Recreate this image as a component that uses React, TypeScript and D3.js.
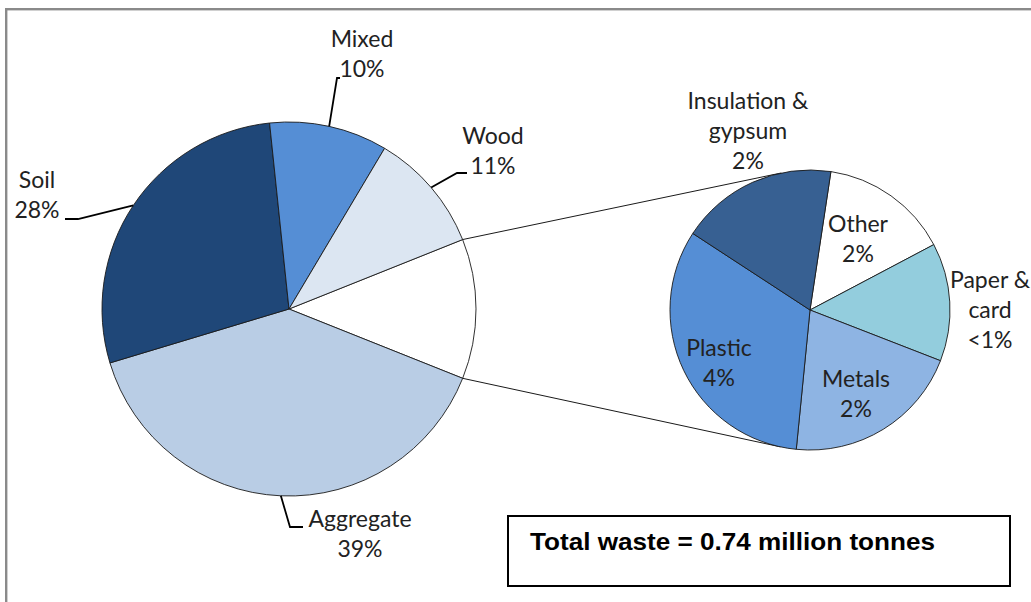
import React from 'react';
import * as d3 from 'd3';

// ---------- data ----------
const mainCategories = ['Other', 'Aggregate', 'Soil', 'Mixed', 'Wood'];
const mainValues = [12.1, 39.3, 28.0, 10.2, 10.4];
const mainPctLabels = ['', '39%', '28%', '10%', '11%'];

const subCategories = ['Other', 'Paper & card', 'Metals', 'Plastic', 'Insulation & gypsum'];
const subValues = [1.8, 1.65, 2.5, 3.95, 2.2];
const subPctLabels = ['2%', '<1%', '2%', '4%', '2%'];

const totalText = 'Total waste = 0.74 million tonnes';

// ---------- styles / layout ----------
const mainColors: Record<string, string> = {
  Other: '#ffffff',
  Aggregate: '#b9cde5',
  Soil: '#1f4778',
  Mixed: '#558ed5',
  Wood: '#dce6f2',
};
const subColors: Record<string, string> = {
  Other: '#ffffff',
  'Paper & card': '#93cddd',
  Metals: '#8eb4e3',
  Plastic: '#558ed5',
  'Insulation & gypsum': '#376092',
};

const W = 1031;
const H = 602;
const main = { cx: 289, cy: 309, r: 187, start: 68.2 };
const sub = { cx: 810, cy: 310, r: 140, start: 8.6 };
const LH = 30;
const FONT = 'Lato, "Open Sans", sans-serif';
const FS = 23;

// label layout: first line center-x, first baseline y, lines, leader path points after the arc point
const mainLabelLayout: Record<string, { x: number; y: number; lines: string[]; leader: [number, number][] }> = {
  Mixed: { x: 362, y: 47, lines: ['Mixed'], leader: [[337, 78], [340, 78]] },
  Wood: { x: 493, y: 144, lines: ['Wood'], leader: [[457, 173], [467, 173]] },
  Soil: { x: 37, y: 188, lines: ['Soil'], leader: [[78, 219], [65, 219]] },
  Aggregate: { x: 360, y: 527, lines: ['Aggregate'], leader: [[290, 527], [303, 527]] },
};
const subLabelLayout: Record<string, { x: number; y: number; lines: string[] }> = {
  Other: { x: 858, y: 232, lines: ['Other'] },
  'Paper & card': { x: 990, y: 288, lines: ['Paper &', 'card'] },
  Metals: { x: 856, y: 387, lines: ['Metals'] },
  Plastic: { x: 719, y: 356, lines: ['Plastic'] },
  'Insulation & gypsum': { x: 748, y: 109, lines: ['Insulation &', 'gypsum'] },
};

const deg = Math.PI / 180;

function tangentPoint(px: number, py: number, cx: number, cy: number, r: number, upper: boolean) {
  const vx = cx - px;
  const vy = cy - py;
  const d = Math.hypot(vx, vy);
  const theta = Math.atan2(vy, vx);
  const alpha = Math.asin(r / d);
  const dir = upper ? theta - alpha - Math.PI / 2 : theta + alpha + Math.PI / 2;
  return [cx + r * Math.cos(dir), cy + r * Math.sin(dir)];
}

export default function App() {
  const mainPie = d3
    .pie<number>()
    .sort(null)
    .startAngle(main.start * deg)
    .endAngle(main.start * deg + 2 * Math.PI);
  const subPie = d3
    .pie<number>()
    .sort(null)
    .startAngle(sub.start * deg)
    .endAngle(sub.start * deg + 2 * Math.PI);
  const mainArcs = mainPie(mainValues);
  const subArcs = subPie(subValues);
  const mainArc = d3.arc<d3.PieArcDatum<number>>().innerRadius(0).outerRadius(main.r);
  const subArc = d3.arc<d3.PieArcDatum<number>>().innerRadius(0).outerRadius(sub.r);

  const onCircle = (a: number, c: { cx: number; cy: number; r: number }) => [
    c.cx + c.r * Math.sin(a),
    c.cy - c.r * Math.cos(a),
  ];

  // connector lines from the "Other" slice of the main pie
  const otherArc = mainArcs[0];
  const pTop = onCircle(otherArc.startAngle, main);
  const pBot = onCircle(otherArc.endAngle, main);
  const tTop = tangentPoint(pTop[0], pTop[1], sub.cx, sub.cy, sub.r, true);
  const tBot = tangentPoint(pBot[0], pBot[1], sub.cx, sub.cy, sub.r, false);

  const line = d3.line();

  return (
    <svg width={W} height={H} style={{ position: 'absolute', left: 0, top: 0, background: '#fff' }}>
      <rect x={6.2} y={9.2} width={W + 50} height={H + 50} fill="#fff" stroke="#8a8a8a" strokeWidth={2.4} />

      {/* main pie */}
      <g transform={`translate(${main.cx},${main.cy})`}>
        {mainArcs.map((a, i) => (
          <path key={i} d={mainArc(a) || ''} fill={mainColors[mainCategories[i]]} stroke="#1a1a1a" strokeWidth={0.9} />
        ))}
      </g>

      {/* connectors */}
      <path d={line([[pTop[0], pTop[1]], [tTop[0], tTop[1]]]) || ''} stroke="#1a1a1a" strokeWidth={1} fill="none" />
      <path d={line([[pBot[0], pBot[1]], [tBot[0], tBot[1]]]) || ''} stroke="#1a1a1a" strokeWidth={1} fill="none" />

      {/* secondary pie */}
      <g transform={`translate(${sub.cx},${sub.cy})`}>
        {subArcs.map((a, i) => (
          <path key={i} d={subArc(a) || ''} fill={subColors[subCategories[i]]} stroke="#1a1a1a" strokeWidth={0.9} />
        ))}
      </g>

      {/* main labels with leaders */}
      {mainArcs.map((a, i) => {
        const name = mainCategories[i];
        const lay = mainLabelLayout[name];
        if (!lay) return null;
        const mid = (a.startAngle + a.endAngle) / 2;
        const p0 = onCircle(mid, main);
        const pts: [number, number][] = [[p0[0], p0[1]], ...lay.leader];
        const lines = [...lay.lines, mainPctLabels[i]];
        return (
          <g key={name}>
            <path d={line(pts) || ''} stroke="#000" strokeWidth={1.8} fill="none" />
            {lines.map((t, k) => (
              <text key={k} x={lay.x} y={lay.y + k * LH} textAnchor="middle" fontFamily={FONT} fontSize={FS} fill="#222">
                {t}
              </text>
            ))}
          </g>
        );
      })}

      {/* secondary labels */}
      {subArcs.map((a, i) => {
        const name = subCategories[i];
        const lay = subLabelLayout[name];
        const lines = [...lay.lines, subPctLabels[i]];
        return (
          <g key={name}>
            {lines.map((t, k) => (
              <text key={k} x={lay.x} y={lay.y + k * LH} textAnchor="middle" fontFamily={FONT} fontSize={FS} fill="#222">
                {t}
              </text>
            ))}
          </g>
        );
      })}

      {/* total box */}
      <rect x={508} y={516} width={502} height={70} fill="#fff" stroke="#000" strokeWidth={2} />
      <text
        x={530}
        y={550}
        fontFamily='"Liberation Sans", Arial, sans-serif'
        fontWeight="bold"
        fontSize={24}
        textLength={405}
        lengthAdjust="spacingAndGlyphs"
        fill="#000"
      >
        {totalText}
      </text>
    </svg>
  );
}
